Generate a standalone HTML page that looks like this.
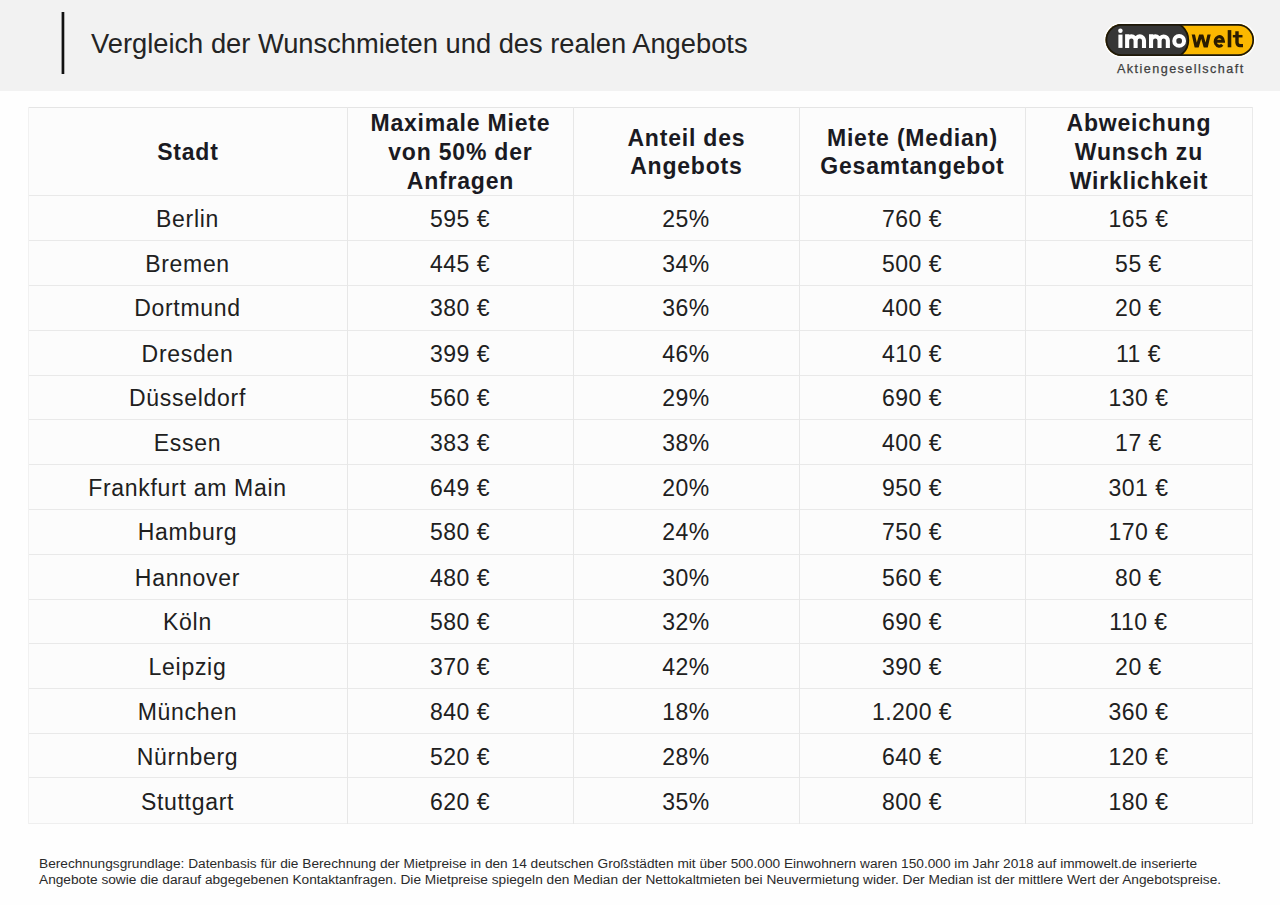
<!DOCTYPE html>
<html><head><meta charset="utf-8"><style>
*{margin:0;padding:0;box-sizing:border-box}
html,body{width:1280px;height:905px;overflow:hidden;background:#fefefe}
body{position:relative;font-family:"Liberation Sans",sans-serif;color:#1c1c1c}
.a{position:absolute}
.t{position:absolute;text-align:center;white-space:nowrap;height:30px}
.b{font-size:23px;line-height:30px;color:#202020}
.h{font-size:23px;line-height:30px;letter-spacing:0.8px;font-weight:bold;padding-left:0.8px;color:#1a1a22}
.hl{position:absolute;height:1px}
.vl{position:absolute;width:1px}
</style></head><body>

<div class="a" style="left:0;top:0;width:1280px;height:91px;background:#f2f2f2"></div>
<svg class="a" style="left:0;top:0" width="80" height="80"><rect x="61.6" y="12" width="2.7" height="62" fill="#111"/></svg>
<div class="a" style="left:91px;top:27.54px;font-size:27.3px;line-height:32px;color:#242424;white-space:nowrap">Vergleich der Wunschmieten und des realen Angebots</div>
<div class="a" style="left:28px;top:107px;width:1224px;height:716px;background:#fcfcfc"></div>
<div class="hl" style="left:28px;top:107px;width:1225px;background:#e5e5e5"></div>
<div class="hl" style="left:28px;top:195px;width:1225px;background:#e9e9e9"></div>
<div class="hl" style="left:28px;top:240px;width:1225px;background:#e9e9e9"></div>
<div class="hl" style="left:28px;top:285px;width:1225px;background:#e9e9e9"></div>
<div class="hl" style="left:28px;top:330px;width:1225px;background:#e9e9e9"></div>
<div class="hl" style="left:28px;top:375px;width:1225px;background:#e9e9e9"></div>
<div class="hl" style="left:28px;top:419px;width:1225px;background:#e9e9e9"></div>
<div class="hl" style="left:28px;top:464px;width:1225px;background:#e9e9e9"></div>
<div class="hl" style="left:28px;top:509px;width:1225px;background:#e9e9e9"></div>
<div class="hl" style="left:28px;top:554px;width:1225px;background:#e9e9e9"></div>
<div class="hl" style="left:28px;top:599px;width:1225px;background:#e9e9e9"></div>
<div class="hl" style="left:28px;top:643px;width:1225px;background:#e9e9e9"></div>
<div class="hl" style="left:28px;top:688px;width:1225px;background:#e9e9e9"></div>
<div class="hl" style="left:28px;top:733px;width:1225px;background:#e9e9e9"></div>
<div class="hl" style="left:28px;top:777px;width:1225px;background:#e9e9e9"></div>
<div class="hl" style="left:28px;top:823px;width:1225px;background:#efefef"></div>
<div class="vl" style="left:28px;top:107px;height:717px;background:#f1f1f1"></div>
<div class="vl" style="left:347px;top:107px;height:717px;background:#e7e7e7"></div>
<div class="vl" style="left:573px;top:107px;height:717px;background:#e7e7e7"></div>
<div class="vl" style="left:799px;top:107px;height:717px;background:#e7e7e7"></div>
<div class="vl" style="left:1025px;top:107px;height:717px;background:#e7e7e7"></div>
<div class="vl" style="left:1252px;top:107px;height:717px;background:#eaeaea"></div>
<div class="t h" style="left:28px;width:319px;top:137px">Stadt</div>
<div class="t h" style="left:347px;width:226px;top:108px">Maximale Miete</div>
<div class="t h" style="left:347px;width:226px;top:137px">von 50% der</div>
<div class="t h" style="left:347px;width:226px;top:166px">Anfragen</div>
<div class="t h" style="left:573px;width:226px;top:123px">Anteil des</div>
<div class="t h" style="left:573px;width:226px;top:151px">Angebots</div>
<div class="t h" style="left:799px;width:226px;top:123px">Miete (Median)</div>
<div class="t h" style="left:799px;width:226px;top:151px">Gesamtangebot</div>
<div class="t h" style="left:1025px;width:227px;top:108px">Abweichung</div>
<div class="t h" style="left:1025px;width:227px;top:137px">Wunsch zu</div>
<div class="t h" style="left:1025px;width:227px;top:166px">Wirklichkeit</div>
<div class="t b" style="left:28px;width:319px;top:204px;letter-spacing:0.7px">Berlin</div>
<div class="t b" style="left:347px;width:226px;top:204px;letter-spacing:0.5px">595 €</div>
<div class="t b" style="left:573px;width:226px;top:204px;letter-spacing:0.5px">25%</div>
<div class="t b" style="left:799px;width:226px;top:204px;letter-spacing:0.5px">760 €</div>
<div class="t b" style="left:1025px;width:227px;top:204px;letter-spacing:0.5px">165 €</div>
<div class="t b" style="left:28px;width:319px;top:249px;letter-spacing:0.7px">Bremen</div>
<div class="t b" style="left:347px;width:226px;top:249px;letter-spacing:0.5px">445 €</div>
<div class="t b" style="left:573px;width:226px;top:249px;letter-spacing:0.5px">34%</div>
<div class="t b" style="left:799px;width:226px;top:249px;letter-spacing:0.5px">500 €</div>
<div class="t b" style="left:1025px;width:227px;top:249px;letter-spacing:0.5px">55 €</div>
<div class="t b" style="left:28px;width:319px;top:293px;letter-spacing:0.7px">Dortmund</div>
<div class="t b" style="left:347px;width:226px;top:293px;letter-spacing:0.5px">380 €</div>
<div class="t b" style="left:573px;width:226px;top:293px;letter-spacing:0.5px">36%</div>
<div class="t b" style="left:799px;width:226px;top:293px;letter-spacing:0.5px">400 €</div>
<div class="t b" style="left:1025px;width:227px;top:293px;letter-spacing:0.5px">20 €</div>
<div class="t b" style="left:28px;width:319px;top:339px;letter-spacing:0.7px">Dresden</div>
<div class="t b" style="left:347px;width:226px;top:339px;letter-spacing:0.5px">399 €</div>
<div class="t b" style="left:573px;width:226px;top:339px;letter-spacing:0.5px">46%</div>
<div class="t b" style="left:799px;width:226px;top:339px;letter-spacing:0.5px">410 €</div>
<div class="t b" style="left:1025px;width:227px;top:339px;letter-spacing:0.5px">11 €</div>
<div class="t b" style="left:28px;width:319px;top:383px;letter-spacing:0.7px">Düsseldorf</div>
<div class="t b" style="left:347px;width:226px;top:383px;letter-spacing:0.5px">560 €</div>
<div class="t b" style="left:573px;width:226px;top:383px;letter-spacing:0.5px">29%</div>
<div class="t b" style="left:799px;width:226px;top:383px;letter-spacing:0.5px">690 €</div>
<div class="t b" style="left:1025px;width:227px;top:383px;letter-spacing:0.5px">130 €</div>
<div class="t b" style="left:28px;width:319px;top:428px;letter-spacing:0.7px">Essen</div>
<div class="t b" style="left:347px;width:226px;top:428px;letter-spacing:0.5px">383 €</div>
<div class="t b" style="left:573px;width:226px;top:428px;letter-spacing:0.5px">38%</div>
<div class="t b" style="left:799px;width:226px;top:428px;letter-spacing:0.5px">400 €</div>
<div class="t b" style="left:1025px;width:227px;top:428px;letter-spacing:0.5px">17 €</div>
<div class="t b" style="left:28px;width:319px;top:473px;letter-spacing:0.7px">Frankfurt am Main</div>
<div class="t b" style="left:347px;width:226px;top:473px;letter-spacing:0.5px">649 €</div>
<div class="t b" style="left:573px;width:226px;top:473px;letter-spacing:0.5px">20%</div>
<div class="t b" style="left:799px;width:226px;top:473px;letter-spacing:0.5px">950 €</div>
<div class="t b" style="left:1025px;width:227px;top:473px;letter-spacing:0.5px">301 €</div>
<div class="t b" style="left:28px;width:319px;top:517px;letter-spacing:0.7px">Hamburg</div>
<div class="t b" style="left:347px;width:226px;top:517px;letter-spacing:0.5px">580 €</div>
<div class="t b" style="left:573px;width:226px;top:517px;letter-spacing:0.5px">24%</div>
<div class="t b" style="left:799px;width:226px;top:517px;letter-spacing:0.5px">750 €</div>
<div class="t b" style="left:1025px;width:227px;top:517px;letter-spacing:0.5px">170 €</div>
<div class="t b" style="left:28px;width:319px;top:563px;letter-spacing:0.7px">Hannover</div>
<div class="t b" style="left:347px;width:226px;top:563px;letter-spacing:0.5px">480 €</div>
<div class="t b" style="left:573px;width:226px;top:563px;letter-spacing:0.5px">30%</div>
<div class="t b" style="left:799px;width:226px;top:563px;letter-spacing:0.5px">560 €</div>
<div class="t b" style="left:1025px;width:227px;top:563px;letter-spacing:0.5px">80 €</div>
<div class="t b" style="left:28px;width:319px;top:607px;letter-spacing:0.7px">Köln</div>
<div class="t b" style="left:347px;width:226px;top:607px;letter-spacing:0.5px">580 €</div>
<div class="t b" style="left:573px;width:226px;top:607px;letter-spacing:0.5px">32%</div>
<div class="t b" style="left:799px;width:226px;top:607px;letter-spacing:0.5px">690 €</div>
<div class="t b" style="left:1025px;width:227px;top:607px;letter-spacing:0.5px">110 €</div>
<div class="t b" style="left:28px;width:319px;top:652px;letter-spacing:0.7px">Leipzig</div>
<div class="t b" style="left:347px;width:226px;top:652px;letter-spacing:0.5px">370 €</div>
<div class="t b" style="left:573px;width:226px;top:652px;letter-spacing:0.5px">42%</div>
<div class="t b" style="left:799px;width:226px;top:652px;letter-spacing:0.5px">390 €</div>
<div class="t b" style="left:1025px;width:227px;top:652px;letter-spacing:0.5px">20 €</div>
<div class="t b" style="left:28px;width:319px;top:697px;letter-spacing:0.7px">München</div>
<div class="t b" style="left:347px;width:226px;top:697px;letter-spacing:0.5px">840 €</div>
<div class="t b" style="left:573px;width:226px;top:697px;letter-spacing:0.5px">18%</div>
<div class="t b" style="left:799px;width:226px;top:697px;letter-spacing:0.5px">1.200 €</div>
<div class="t b" style="left:1025px;width:227px;top:697px;letter-spacing:0.5px">360 €</div>
<div class="t b" style="left:28px;width:319px;top:742px;letter-spacing:0.7px">Nürnberg</div>
<div class="t b" style="left:347px;width:226px;top:742px;letter-spacing:0.5px">520 €</div>
<div class="t b" style="left:573px;width:226px;top:742px;letter-spacing:0.5px">28%</div>
<div class="t b" style="left:799px;width:226px;top:742px;letter-spacing:0.5px">640 €</div>
<div class="t b" style="left:1025px;width:227px;top:742px;letter-spacing:0.5px">120 €</div>
<div class="t b" style="left:28px;width:319px;top:787px;letter-spacing:0.7px">Stuttgart</div>
<div class="t b" style="left:347px;width:226px;top:787px;letter-spacing:0.5px">620 €</div>
<div class="t b" style="left:573px;width:226px;top:787px;letter-spacing:0.5px">35%</div>
<div class="t b" style="left:799px;width:226px;top:787px;letter-spacing:0.5px">800 €</div>
<div class="t b" style="left:1025px;width:227px;top:787px;letter-spacing:0.5px">180 €</div>
<div class="a" style="left:39px;top:855.80px;font-size:13.7px;line-height:16px;color:#2a2a2a;white-space:nowrap">Berechnungsgrundlage: Datenbasis für die Berechnung der Mietpreise in den 14 deutschen Großstädten mit über 500.000 Einwohnern waren 150.000 im Jahr 2018 auf immowelt.de inserierte</div>
<div class="a" style="left:39px;top:871.80px;font-size:13.7px;line-height:16px;color:#2a2a2a;white-space:nowrap">Angebote sowie die darauf abgegebenen Kontaktanfragen. Die Mietpreise spiegeln den Median der Nettokaltmieten bei Neuvermietung wider. Der Median ist der mittlere Wert der Angebotspreise.</div>
<svg class="a" style="left:1100px;top:18px" width="160" height="60" viewBox="1100 18 160 60">
<defs><clipPath id="pc"><rect x="1105.6" y="24.1" width="148.4" height="31.8" rx="15.9"/></clipPath>
<clipPath id="wc"><rect x="1188" y="34.6" width="26" height="12.8"/></clipPath></defs>
<rect x="1103.8" y="22.3" width="152" height="35.4" rx="17.7" fill="#fdfdfd"/>
<rect x="1105.6" y="24.1" width="148.4" height="31.8" rx="15.9" fill="#fbb800"/>
<g clip-path="url(#pc)">
<circle cx="1169.9" cy="40.2" r="18.4" fill="#363636" stroke="#1e1700" stroke-width="1.8"/>
<rect x="1100" y="20" width="70" height="40" fill="#363636"/>
</g>
<rect x="1106.4" y="24.9" width="146.8" height="30.2" rx="15.1" fill="none" stroke="#1e1808" stroke-width="1.7"/>
<g fill="none" stroke="#fff" stroke-width="4.1">
<path d="M1120.45 34.6V47.9"/>
<path d="M1127.15 47.9V34.3M1127.15 40.6A4.22 4.22 0 0 1 1135.6 40.6V47.9M1135.6 40.6A4.2 4.2 0 0 1 1144 40.6V47.9"/>
<path d="M1151.05 47.9V34.3M1151.05 40.6A4.25 4.25 0 0 1 1159.55 40.6V47.9M1159.55 40.6A4.15 4.15 0 0 1 1167.85 40.6V47.9"/>
<circle cx="1179.15" cy="40.9" r="4.87" stroke-width="4.05"/>
</g>
<circle cx="1120.4" cy="30.7" r="2.25" fill="#fff"/>
<g fill="none" stroke="#2a1c00" stroke-width="3.6">
<path clip-path="url(#wc)" d="M1193 33L1196.6 49L1201.2 33L1205.8 49L1209.4 33" stroke-linejoin="miter" stroke-width="3.2"/>
<path d="M1215 41.2H1223.4A4.1 4.75 0 1 0 1222.2 44.8" stroke-width="3.1"/>
<path d="M1229.5 30.1V47.3"/>
<path d="M1237 31.2V42.6A3 3 0 0 0 1240 45.6H1243" stroke-width="3.4"/>
<path d="M1232.8 36.2H1242.5" stroke-width="2.5"/>
</g>
<text x="1117" y="72.5" font-family="Liberation Sans" font-size="12.6" fill="#3e3e3e" letter-spacing="1.45" stroke="#3e3e3e" stroke-width="0.25">Aktiengesellschaft</text>
</svg>

</body></html>
